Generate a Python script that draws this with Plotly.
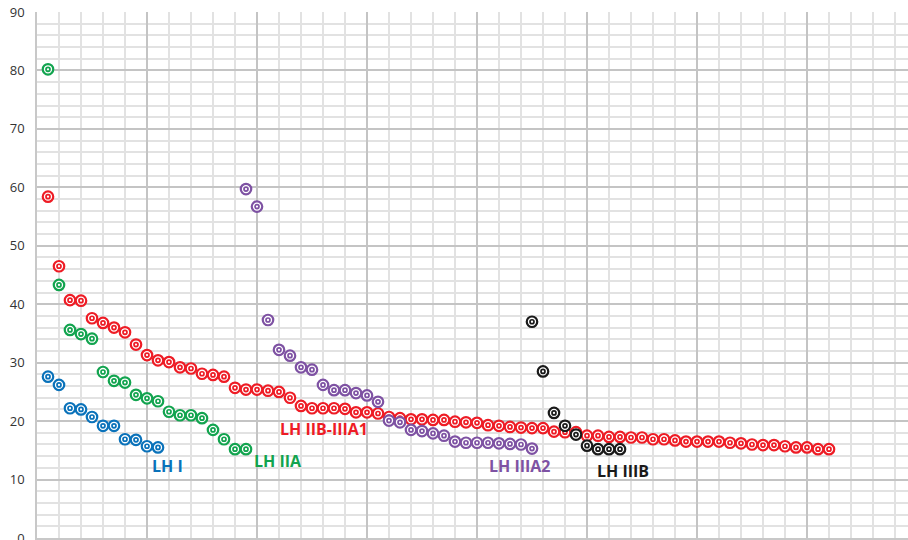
import plotly.graph_objects as go

# LH series: value at each sample index (x starts at 1 for each series' first sample)
lh_i_x = list(range(1, 12))
lh_i_y = [27.6, 26.2, 22.2, 22.0, 20.7, 19.2, 19.2, 16.9, 16.8, 15.7, 15.5]

lh_iia_x = list(range(1, 20))
lh_iia_y = [80.2, 43.3, 35.6, 34.9, 34.1, 28.4, 26.9, 26.6, 24.5, 23.9,
            23.4, 21.6, 21.0, 21.0, 20.5, 18.5, 16.9, 15.2, 15.2]

lh_iib_x = list(range(1, 73))
lh_iib_y = [58.4, 46.5, 40.7, 40.6, 37.6, 36.8, 36.0, 35.2, 33.1, 31.3,
            30.4, 30.1, 29.2, 29.0, 28.1, 27.9, 27.6, 25.7, 25.4, 25.4,
            25.2, 25.0, 24.0, 22.6, 22.2, 22.2, 22.2, 22.1, 21.5, 21.5,
            21.3, 20.7, 20.5, 20.3, 20.3, 20.2, 20.2, 19.9, 19.8, 19.7,
            19.3, 19.2, 19.0, 18.9, 18.8, 18.8, 18.2, 18.1, 18.1, 17.5,
            17.5, 17.3, 17.3, 17.2, 17.2, 16.9, 16.9, 16.7, 16.5, 16.5,
            16.5, 16.5, 16.3, 16.2, 16.0, 15.9, 15.9, 15.7, 15.5, 15.5,
            15.2, 15.2]

lh_iiia2_x = list(range(19, 46))
lh_iiia2_y = [59.7, 56.7, 37.3, 32.2, 31.2, 29.2, 28.8, 26.2, 25.3, 25.3,
              24.8, 24.4, 23.3, 20.1, 19.8, 18.5, 18.3, 17.9, 17.5, 16.5,
              16.3, 16.3, 16.3, 16.2, 16.1, 16.0, 15.3]

lh_iiib_x = list(range(45, 54))
lh_iiib_y = [37.0, 28.5, 21.4, 19.2, 17.7, 15.8, 15.2, 15.2, 15.2]

series = [
    ("LH IIB-IIIA1", lh_iib_x, lh_iib_y, "#ee1c25", 26.1, 18.65),
    ("LH I", lh_i_x, lh_i_y, "#0a72ba", 11.9, 12.4),
    ("LH IIA", lh_iia_x, lh_iia_y, "#12a44f", 21.9, 13.1),
    ("LH IIIA2", lh_iiia2_x, lh_iiia2_y, "#7e52a3", 43.9, 12.3),
    ("LH IIIB", lh_iiib_x, lh_iiib_y, "#1a1a1a", 53.3, 11.5),
]

fig = go.Figure()
annotations = []
for name, xs, ys, color, lx, ly in series:
    # outer ring
    fig.add_trace(go.Scatter(
        x=xs, y=ys, mode="markers", name=name, showlegend=False,
        marker=dict(symbol="circle", size=10.5, color="white",
                    line=dict(color=color, width=2.2)),
        hoverinfo="skip"))
    # inner ring
    fig.add_trace(go.Scatter(
        x=xs, y=ys, mode="markers", showlegend=False,
        marker=dict(symbol="circle", size=4, color="white",
                    line=dict(color=color, width=1.7)),
        hoverinfo="skip"))
    annotations.append(dict(
        x=lx, y=ly, xref="x", yref="y", text=name, showarrow=False,
        font=dict(family="Open Sans", size=16, color=color, weight="bold"),
        xanchor="center", yanchor="middle"))

fig.update_layout(
    width=908, height=540,
    margin=dict(l=37, r=0, t=12, b=2, autoexpand=False),
    paper_bgcolor="white", plot_bgcolor="white",
    annotations=annotations,
    xaxis=dict(
        range=[0, 871 / 11], dtick=10, tick0=0, automargin=False,
        showticklabels=False, ticks="", zeroline=False,
        showgrid=True, gridcolor="#c4c4c4", gridwidth=1.5,
        minor=dict(dtick=2, showgrid=True, gridcolor="#e2e2e2", gridwidth=1.5),
        showline=True, linecolor="#c8c8c8", linewidth=1.5,
    ),
    yaxis=dict(
        range=[0, 90], dtick=10, tick0=0, automargin=False,
        ticks="", zeroline=False, ticklabelstandoff=8,
        ticklabeloverflow="allow",
        tickfont=dict(family="Open Sans", size=13, color="#333333"),
        showgrid=True, gridcolor="#c4c4c4", gridwidth=1.5,
        minor=dict(dtick=2, showgrid=True, gridcolor="#e2e2e2", gridwidth=1.5),
        showline=True, linecolor="#c8c8c8", linewidth=1.5,
    ),
)

fig.write_html("out.html")
